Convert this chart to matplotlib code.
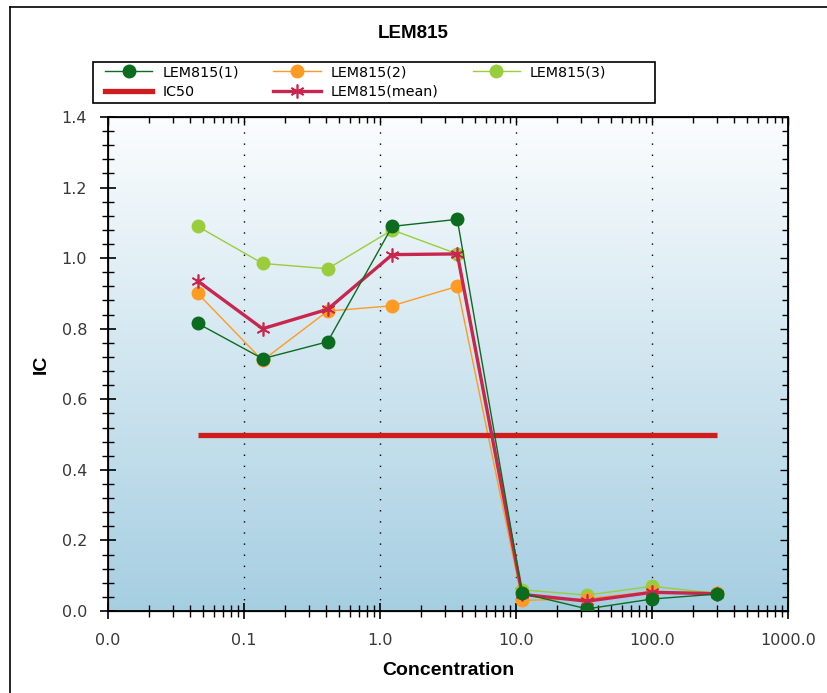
import matplotlib
matplotlib.use("Agg")
import matplotlib.pyplot as plt
import numpy as np
from matplotlib.ticker import FixedLocator, FixedFormatter, MultipleLocator, LogLocator, NullFormatter
from matplotlib.lines import Line2D
from matplotlib.patches import Rectangle

plt.rcParams['font.family'] = ['DejaVu Sans']

# data: 3-fold dilution series
conc = [0.0457, 0.137, 0.412, 1.23, 3.70, 11.1, 33.3, 100.0, 300.0]
lem1 = [0.815, 0.715, 0.763, 1.09, 1.11, 0.050, 0.006, 0.034, 0.048]
lem2 = [0.900, 0.710, 0.850, 0.865, 0.920, 0.030, 0.035, 0.055, 0.050]
lem3 = [1.090, 0.985, 0.970, 1.080, 1.012, 0.060, 0.045, 0.070, 0.050]
lem_mean = [0.935, 0.800, 0.855, 1.010, 1.012, 0.047, 0.028, 0.053, 0.049]
ic50_x = [0.0457, 300.0]
ic50_y = [0.5, 0.5]

xticks = [0.01, 0.1, 1, 10, 100, 1000]
xticklabels = ['0.0', '0.1', '1.0', '10.0', '100.0', '1000.0']

c1, c2, c3 = '#0b6b1e', '#ff9a22', '#9acd3c'
cic, cm = '#d01c1c', '#c8264e'

fig = plt.figure(figsize=(8.27, 6.93), dpi=100)
ax = fig.add_axes([108/827, 1-611/693, 680/827, 494/693])

# gradient background
grad = np.linspace(0, 1, 256).reshape(-1, 1)
top = np.array([0.985, 0.992, 0.996])
bot = np.array([0.65, 0.81, 0.885])
img = top + (bot - top) * grad[..., None]
ax.imshow(img, extent=[0, 1, 0, 1], transform=ax.transAxes, aspect='auto', zorder=0)

ax.set_xscale('log')
ax.set_xlim(0.01, 1000)
ax.set_ylim(0, 1.4)

for x in xticks[1:-1]:
    ax.axvline(x, color='black', lw=1.0, ls=(0, (1, 7)), zorder=1)

ms = 9
ax.plot(conc, lem3, color=c3, lw=1.0, marker='o', ms=ms, zorder=3)
ax.plot(conc, lem2, color=c2, lw=1.0, marker='o', ms=ms, zorder=4)
ax.plot(ic50_x, ic50_y, color=cic, lw=3.8, solid_capstyle='butt', zorder=5)
ax.plot(conc, lem_mean, color=cm, lw=2.4, marker=(6, 2, 0), ms=10, mew=1.2, zorder=6)
ax.plot(conc, lem1, color=c1, lw=1.0, marker='o', ms=ms, zorder=7)

ax.xaxis.set_major_locator(FixedLocator(xticks))
ax.xaxis.set_major_formatter(FixedFormatter(xticklabels))
ax.xaxis.set_minor_locator(LogLocator(base=10, subs=np.arange(2, 10)))
ax.xaxis.set_minor_formatter(NullFormatter())
ax.yaxis.set_major_locator(MultipleLocator(0.2))
ax.yaxis.set_minor_locator(MultipleLocator(0.04))
ax.yaxis.set_major_formatter(plt.FuncFormatter(lambda v, p: f'{v:.1f}'))

ax.tick_params(which='major', direction='inout', length=12, width=1.2, labelsize=11.5,
               labelcolor='#383838', top=False, right=False)
ax.tick_params(axis='x', which='major', pad=10)
ax.tick_params(axis='y', which='major', pad=9)
ax.tick_params(which='minor', direction='inout', length=8, width=1.0, top=False, right=False)
for s in ax.spines.values():
    s.set_linewidth(1.3)

# inward ticks on top and right
axt = ax.twiny()
axt.set_xscale('log')
axt.set_xlim(ax.get_xlim())
axt.xaxis.set_major_locator(FixedLocator(xticks))
axt.xaxis.set_minor_locator(LogLocator(base=10, subs=np.arange(2, 10)))
axt.tick_params(which='both', direction='in', labeltop=False, width=1.0)
axt.tick_params(which='major', length=6)
axt.tick_params(which='minor', length=4)
axr = ax.twinx()
axr.set_ylim(ax.get_ylim())
axr.yaxis.set_major_locator(MultipleLocator(0.2))
axr.yaxis.set_minor_locator(MultipleLocator(0.04))
axr.tick_params(which='both', direction='in', labelright=False, width=1.0)
axr.tick_params(which='major', length=6)
axr.tick_params(which='minor', length=4)

ax.set_xlabel('Concentration', fontsize=14, fontweight='bold', family='Liberation Sans', va='top')
ax.xaxis.set_label_coords(0.5, (611-662)/494)
ax.set_ylabel('IC', fontsize=14, fontweight='bold', family='Liberation Sans')
ax.yaxis.set_label_coords((50-108)/680, 0.5)
fig.text(0.5, 1-33/693, 'LEM815', ha='center', va='center', fontsize=13.5,
         fontweight='bold', family='Liberation Sans')

h1 = Line2D([], [], color=c1, lw=1.0, marker='o', ms=ms)
h2 = Line2D([], [], color=c2, lw=1.0, marker='o', ms=ms)
h3 = Line2D([], [], color=c3, lw=1.0, marker='o', ms=ms)
hic = Line2D([], [], color=cic, lw=3.8)
hm = Line2D([], [], color=cm, lw=2.4, marker=(6, 2, 0), ms=10, mew=1.2)
leg = fig.legend([h1, hic, h2, hm, h3],
                 ['LEM815(1)', 'IC50', 'LEM815(2)', 'LEM815(mean)', 'LEM815(3)'],
                 ncol=3, loc='upper left', bbox_to_anchor=(103/827, 1-63/693),
                 prop={'size': 10.3}, frameon=False,
                 borderpad=0.15, labelspacing=0.4, handlelength=3.3, handletextpad=0.7,
                 columnspacing=2.4, borderaxespad=0)
# legend frame box
fig.add_artist(Rectangle((93/827, 1-103/693), (655-93)/827, (103-62)/693, fill=False,
                         edgecolor='black', lw=1.2, transform=fig.transFigure))

# outer frame lines (left and top)
fig.add_artist(Line2D([10/827, 10/827], [0, 1-7/693], color='black', lw=1.2, transform=fig.transFigure))
fig.add_artist(Line2D([10/827, 1], [1-7/693, 1-7/693], color='black', lw=1.2, transform=fig.transFigure))

fig.savefig('out.png', dpi=100)
